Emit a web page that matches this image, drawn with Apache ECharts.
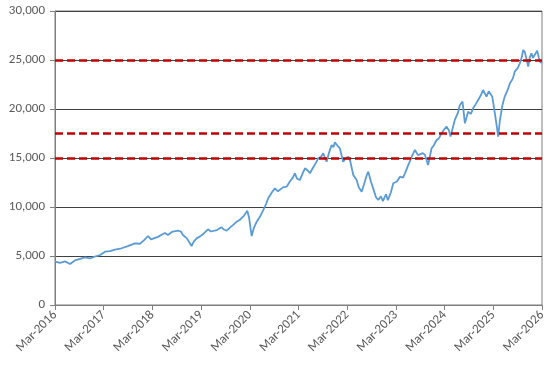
<!DOCTYPE html>
<html>
<head>
<meta charset="utf-8">
<script src="https://cdn.jsdelivr.net/npm/echarts@6/dist/echarts.min.js"></script>
<style>
html,body{margin:0;padding:0;background:#fff;}
#chart{width:551px;height:371px;}
</style>
</head>
<body>
<div id="chart"></div>
<script>
// ---- data ----
var dates = [
"2016-03-01","2016-04-08","2016-05-15","2016-06-22","2016-07-29","2016-09-06","2016-10-13","2016-11-20","2016-12-28","2017-02-04",
"2017-03-11","2017-04-18","2017-05-25","2017-07-14","2017-08-30","2017-10-22","2017-11-29","2017-12-29","2018-01-29","2018-02-20",
"2018-03-05","2018-04-12","2018-05-12","2018-06-04","2018-06-26","2018-07-26","2018-09-10","2018-10-02","2018-10-17","2018-11-16",
"2018-12-21","2019-01-08","2019-01-29","2019-02-22","2019-03-22","2019-04-22","2019-05-14","2019-05-29","2019-06-28","2019-08-03",
"2019-08-20","2019-09-10","2019-10-04","2019-10-27","2019-11-24","2019-12-18","2020-01-18","2020-02-12","2020-02-25","2020-03-15",
"2020-04-02","2020-04-22","2020-05-16","2020-06-10","2020-07-01","2020-07-18","2020-07-31","2020-08-15","2020-09-07","2020-09-29",
"2020-10-14","2020-11-06","2020-12-03","2020-12-28","2021-01-20","2021-02-04","2021-02-19","2021-03-12","2021-04-04","2021-04-19",
"2021-05-11","2021-05-26","2021-06-18","2021-07-10","2021-07-27","2021-08-17","2021-09-04","2021-09-17","2021-09-29","2021-10-16",
"2021-11-06","2021-11-19","2021-11-30","2021-12-13","2021-12-23","2022-01-07","2022-02-01","2022-02-22","2022-03-09","2022-03-22",
"2022-04-16","2022-05-11","2022-05-28","2022-06-18","2022-07-05","2022-07-25","2022-08-07","2022-08-27","2022-09-13","2022-10-04",
"2022-10-21","2022-11-10","2022-11-25","2022-12-18","2023-01-02","2023-01-25","2023-02-11","2023-03-09","2023-04-01","2023-04-24",
"2023-05-08","2023-05-31","2023-06-28","2023-07-22","2023-08-14","2023-08-29","2023-09-21","2023-10-06","2023-10-30","2023-11-25",
"2023-12-12","2024-01-02","2024-01-19","2024-02-09","2024-02-26","2024-03-16","2024-04-03","2024-04-15","2024-05-02","2024-05-17",
"2024-06-09","2024-06-24","2024-07-14","2024-08-01","2024-08-26","2024-09-15","2024-10-02","2024-10-22","2024-11-09","2024-11-29",
"2024-12-16","2025-01-11","2025-01-28","2025-02-05","2025-02-22","2025-03-13","2025-03-28","2025-04-07","2025-04-20","2025-05-09",
"2025-05-26","2025-06-19","2025-07-04","2025-07-26","2025-08-10","2025-09-02","2025-09-17","2025-10-02","2025-10-12","2025-10-25",
"2025-11-02","2025-11-19","2025-12-01","2025-12-14","2025-12-24","2026-01-08","2026-01-26","2026-02-08","2026-02-15","2026-03-01"
];
var values = [
4420,4300,4450,4180,4550,4700,4850,4750,4950,5100,
5440,5500,5650,5790,6000,6290,6250,6600,7040,6700,
6630,6950,7200,7350,7150,7450,7580,7500,7140,6800,
6020,6500,6800,7000,7300,7720,7500,7310,7650,7930,
7700,7580,7900,8150,8500,8700,9100,9620,8900,7040,
7900,8500,9000,9690,10300,10890,11050,11500,11900,11600,
11400,12000,12070,12600,13000,13440,12900,12760,13500,13950,
13700,13440,14000,14500,14970,15100,15480,15000,14620,15500,
16330,16100,16600,16500,16200,15990,14620,15000,15130,14800,
13270,12760,12000,11560,12300,13200,13600,12600,11900,11000,
10710,11100,10600,11300,10700,11500,12420,12600,13090,13000,
13440,14200,15130,15820,15300,15130,15500,15310,14290,15990,
16300,16840,17000,17520,17900,18200,17800,17180,18100,18880,
19600,20410,20750,18540,19720,19500,20070,20500,20920,21400,
21940,21260,21800,21940,21260,19560,18200,17180,18880,20410,
21260,22000,22620,23100,23810,24200,24660,25300,26020,25800,
25340,24320,25300,25680,25200,25340,25950,25200,24830,24700
];
var refLevels = [25000, 17500, 15000];
var yTicks = {min: 0, max: 30000, step: 5000};
var xStartYear = 2016, xEndYear = 2026; // ticks every March

// months since March of start year (fractional)
function monthsSinceStart(s){
  var p = s.split('-').map(Number);
  var dim = new Date(Date.UTC(p[0], p[1], 0)).getUTCDate();
  return (p[0]-xStartYear)*12 + (p[1]-3) + (p[2]-1)/dim;
}
var seriesData = dates.map(function(d,i){ return [monthsSinceStart(d), values[i]]; });

var FONT = "Carlito, Lato, 'Liberation Sans', sans-serif";
var chart = echarts.init(document.getElementById('chart'), null, {renderer:'canvas'});
chart.setOption({
  animation:false,
  backgroundColor:'#ffffff',
  grid:{left:55, right:9, top:11, bottom:66, show:true, borderColor:'#7f7f7f', borderWidth:1, containLabel:false},
  xAxis:{
    type:'value', min:0, max:(xEndYear-xStartYear)*12, interval:12,
    axisLine:{show:true, lineStyle:{color:'#7f7f7f', width:1}},
    axisTick:{show:true, length:5, lineStyle:{color:'#7f7f7f'}},
    splitLine:{show:false},
    axisLabel:{rotate:45, margin:8, color:'#595959', fontSize:13, fontFamily:FONT,
      formatter:function(v){ return 'Mar-' + (xStartYear + Math.round(v/12)); }}
  },
  yAxis:{
    type:'value', min:yTicks.min, max:yTicks.max, interval:yTicks.step,
    axisLine:{show:true, lineStyle:{color:'#7f7f7f', width:1}},
    axisTick:{show:true, length:5, lineStyle:{color:'#7f7f7f'}},
    splitLine:{show:true, lineStyle:{color:'#404040', width:1}},
    axisLabel:{margin:10, color:'#595959', fontSize:13, fontFamily:FONT,
      formatter:function(v){ return v.toLocaleString('en-US'); }}
  },
  series:[{
    type:'line', data:seriesData, showSymbol:false, symbol:'none',
    lineStyle:{color:'#5B9BD5', width:1.8},
    z:3,
    markLine:{
      silent:true, symbol:['none','none'], label:{show:false},
      lineStyle:{color:'#C00000', type:[8,4], width:2.5},
      data: refLevels.map(function(v){ return {yAxis:v}; }),
      z:4
    }
  }]
});
</script>
</body>
</html>
